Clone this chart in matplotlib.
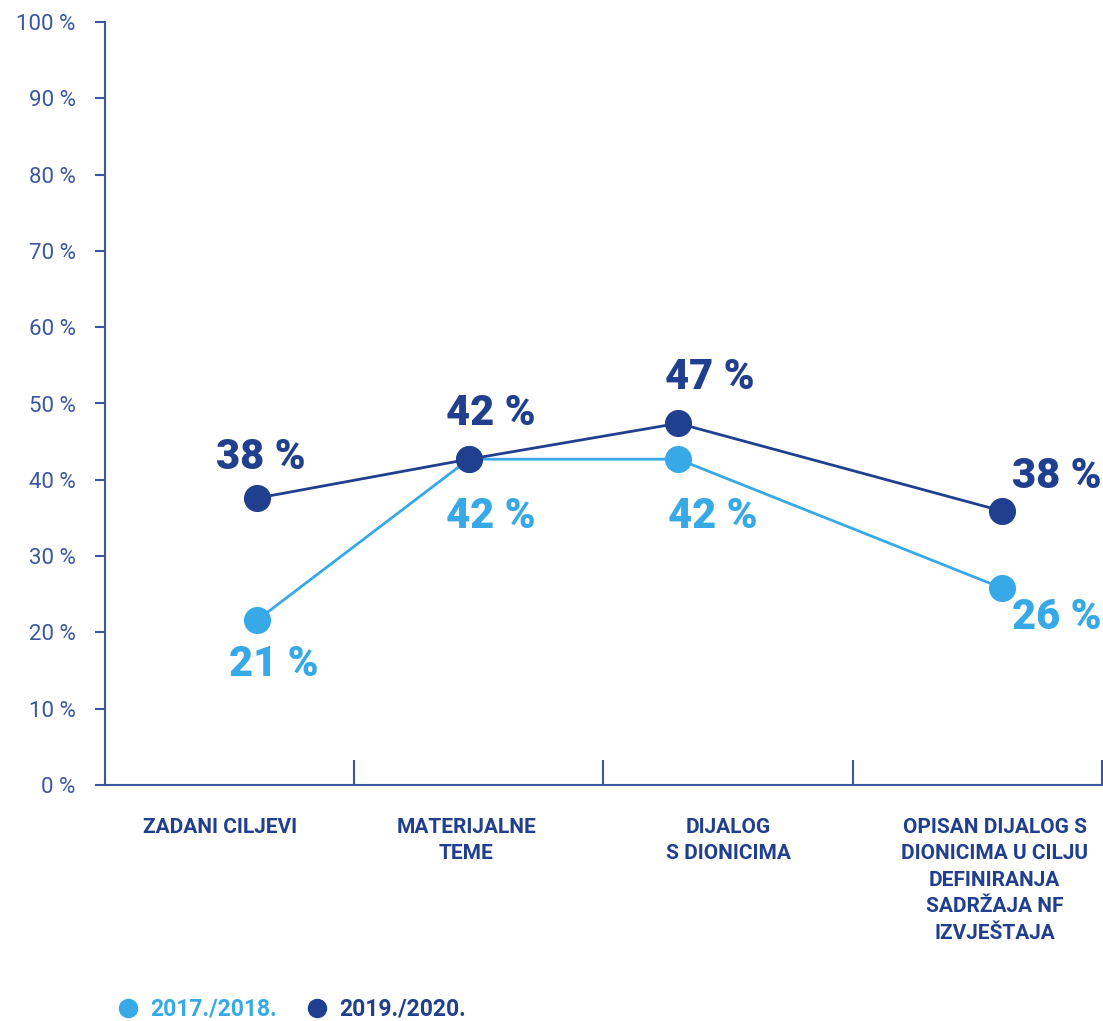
import numpy as np
import matplotlib
matplotlib.use("Agg")
import matplotlib.pyplot as plt
from matplotlib.lines import Line2D

# data
categories = ["ZADANI CILJEVI", "MATERIJALNE\nTEME", "DIJALOG\nS DIONICIMA",
              "OPISAN DIJALOG S\nDIONICIMA U CILJU\nDEFINIRANJA\nSADRŽAJA NF\nIZVJEŠTAJA"]
series_names = ["2017./2018.", "2019./2020."]
values_1718 = [21.6, 42.7, 42.7, 25.8]
values_1920 = [37.6, 42.7, 47.4, 35.9]
labels_1718 = ["21 %", "42 %", "42 %", "26 %"]
labels_1920 = ["38 %", "42 %", "47 %", "38 %"]

# layout (point and label positions inside each category slot)
point_x = [0.61, 1.46, 2.30, 3.60]
cat_label_x = [0.46, 1.45, 2.50, 3.57]
off_1718 = [(12, -32), (16, -41), (25, -41), (39, -21)]
off_1920 = [(3, 29), (16, 33), (23, 33), (39, 25)]

LIGHT = "#36a9e6"
DARK = "#213f8f"
AXC = "#3a57a0"
FONT = "Roboto"

fig = plt.figure(figsize=(11.03, 10.21), dpi=100)
ax = fig.add_axes([105/1103, 1-785/1021, 1-105/1103-0.001, (785-22)/1021])

ax.plot(point_x, values_1718, color=LIGHT, lw=2, marker="o", ms=18.5, zorder=3)
ax.plot(point_x, values_1920, color=DARK, lw=2, marker="o", ms=18.5, zorder=4)

for x, v, t, o in zip(point_x, values_1718, labels_1718, off_1718):
  ax.annotate(t, (x, v), xytext=o, textcoords="offset points", ha="center", va="center",
              color=LIGHT, fontsize=30, fontweight="heavy", family=FONT)
for x, v, t, o in zip(point_x, values_1920, labels_1920, off_1920):
  ax.annotate(t, (x, v), xytext=o, textcoords="offset points", ha="center", va="center",
              color=DARK, fontsize=30, fontweight="heavy", family=FONT)

ax.set_xlim(0, 4)
ax.set_ylim(0, 100)
ax.set_yticks(np.arange(0, 101, 10))
ax.set_yticklabels(["{} %".format(v) for v in range(0, 101, 10)], family=FONT,
                   fontweight="normal", fontsize=16, color=AXC)
ax.set_xticks([1, 2, 3, 4])
ax.set_xticklabels([])
ax.tick_params(axis="y", direction="out", length=7, width=1.5, color=AXC, pad=14)
ax.tick_params(axis="x", direction="in", length=18, width=1.5, color=AXC)
for s in ["top", "right"]:
  ax.spines[s].set_visible(False)
for s in ["left", "bottom"]:
  ax.spines[s].set_color(AXC)
  ax.spines[s].set_linewidth(1.5)
ax.spines["left"].set_bounds(0, 100)

for x, c in zip(cat_label_x, categories):
  ax.text(x, -4.3, c, ha="center", va="top", color=DARK, fontsize=15, fontweight="bold",
          family=FONT, linespacing=1.5, transform=ax.transData, clip_on=False)

handles = [Line2D([], [], color=LIGHT, marker="o", ls="", ms=13),
           Line2D([], [], color=DARK, marker="o", ls="", ms=13)]
leg = fig.legend(handles, series_names, loc="lower left", bbox_to_anchor=(0.077, -0.02),
                 ncol=2, frameon=False, handletextpad=-0.05, columnspacing=0.75,
                 prop={"family": FONT, "weight": "bold", "size": 16.5})
for t, c in zip(leg.get_texts(), [LIGHT, DARK]):
  t.set_color(c)

fig.savefig("out.png", dpi=100)
